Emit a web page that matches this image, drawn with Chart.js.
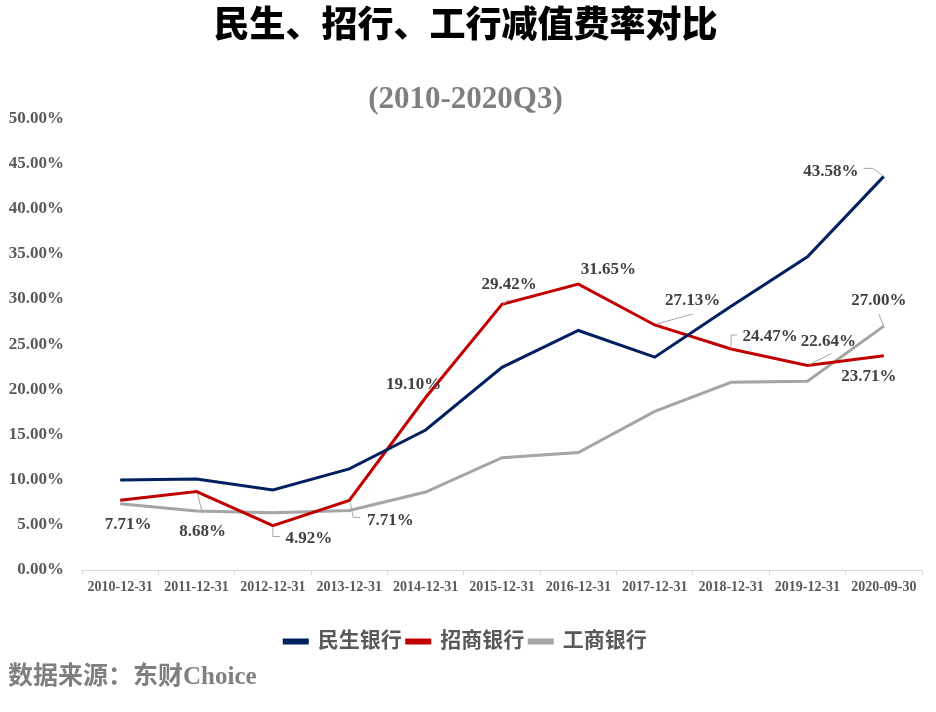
<!DOCTYPE html>
<html>
<head>
<meta charset="utf-8">
<script src="https://cdn.jsdelivr.net/npm/chart.js@4.4.1/dist/chart.umd.min.js"></script>
<style>
  html, body { margin: 0; padding: 0; background: #fff; }
  #wrap { width: 936px; height: 712px; }
</style>
</head>
<body>
<div id="wrap"><canvas id="chart"></canvas></div>
<script>
const FONT = "'Liberation Serif', 'Noto Sans CJK SC', serif";

const categories = [
  '2010-12-31', '2011-12-31', '2012-12-31', '2013-12-31', '2014-12-31', '2015-12-31',
  '2016-12-31', '2017-12-31', '2018-12-31', '2019-12-31', '2020-09-30'
];
const seriesNames = ['民生银行', '招商银行', '工商银行'];
const minsheng = [9.97, 10.08, 8.86, 11.2, 15.5, 22.44, 26.52, 23.56, 29.2, 34.67, 43.58];
const zhaoshang = [7.71, 8.68, 4.92, 7.71, 19.10, 29.42, 31.65, 27.13, 24.47, 22.64, 23.71];
const gongshang = [7.33, 6.52, 6.33, 6.59, 8.63, 12.44, 13.0, 17.56, 20.78, 20.89, 27.00];
const yTicks = [0, 5, 10, 15, 20, 25, 30, 35, 40, 45, 50];

// which points get a value label: [datasetIndex, pointIndex]
const labelled = [
  [1, 0], [1, 1], [1, 2], [1, 3], [1, 4], [1, 5], [1, 6], [1, 7], [1, 8], [1, 9], [1, 10],
  [0, 10], [2, 10]
];
// label offsets from the point, plus optional leader polyline (px)
const placement = [
  { dx: 8, dy: 24 },
  { dx: 6, dy: 40, lead: [[1, 2], [6, 22]] },
  { dx: 36, dy: 13, lead: [[0, 2], [0, 11], [7, 11]] },
  { dx: 41, dy: 20, lead: [[1, 2], [4, 17], [11, 17]] },
  { dx: -12, dy: -13 },
  { dx: 7, dy: -20, lead: [[1, 0], [7, -5]] },
  { dx: 30, dy: -15 },
  { dx: 38, dy: -24, lead: [[2, -1], [38, -11]] },
  { dx: 39, dy: -12, lead: [[0, 0], [0, -14], [6, -14]] },
  { dx: 21, dy: -24, lead: [[2, -1], [24, -12]] },
  { dx: -15, dy: 21 },
  { dx: -53, dy: -5, lead: [[0, 0], [-11, -8], [-20, -8]] },
  { dx: -5, dy: -26, lead: [[0, 0], [-5, -12]] }
];

const valueLabels = {
  id: 'valueLabels',
  afterDatasetsDraw(chart) {
    const ctx = chart.ctx;
    ctx.save();
    labelled.forEach(([ds, i], k) => {
      const pt = chart.getDatasetMeta(ds).data[i];
      const p = placement[k];
      if (p.lead) {
        ctx.strokeStyle = '#a6a6a6';
        ctx.lineWidth = 1;
        ctx.beginPath();
        p.lead.forEach(([lx, ly], j) => {
          if (j === 0) ctx.moveTo(pt.x + lx, pt.y + ly);
          else ctx.lineTo(pt.x + lx, pt.y + ly);
        });
        ctx.stroke();
      }
      const v = chart.data.datasets[ds].data[i];
      ctx.font = 'bold 17px ' + FONT;
      ctx.fillStyle = '#404040';
      ctx.textAlign = 'center';
      ctx.textBaseline = 'middle';
      ctx.fillText(v.toFixed(2) + '%', pt.x + p.dx, pt.y + p.dy);
    });
    ctx.restore();
  }
};

const sourceNote = {
  id: 'sourceNote',
  afterDraw(chart) {
    const ctx = chart.ctx;
    ctx.save();
    ctx.font = 'bold 25px ' + FONT;
    ctx.fillStyle = '#7f7f7f';
    ctx.textAlign = 'left';
    ctx.textBaseline = 'middle';
    ctx.fillText('数据来源：东财Choice', 8, 678);
    ctx.restore();
  }
};

const colors = ['#002060', '#c00000', '#a5a5a5'];
const series = [minsheng, zhaoshang, gongshang];

new Chart(document.getElementById('chart'), {
  type: 'line',
  data: {
    labels: categories,
    datasets: series.map((d, i) => ({
      label: seriesNames[i],
      data: d,
      borderColor: colors[i],
      backgroundColor: colors[i],
      borderWidth: 3,
      pointRadius: 0,
      tension: 0
    }))
  },
  options: {
    responsive: true,
    maintainAspectRatio: false,
    animation: false,
    layout: { padding: { left: 9, right: 14, top: 0, bottom: 50 } },
    plugins: {
      title: {
        display: true,
        text: '民生、招行、工行减值费率对比',
        color: '#000',
        font: { family: FONT, size: 36, weight: 900 },
        padding: { top: 6, bottom: 8 }
      },
      subtitle: {
        display: true,
        text: '(2010-2020Q3)',
        color: '#7f7f7f',
        font: { family: FONT, size: 31, weight: 'bold' },
        padding: { top: 24, bottom: 0 }
      },
      legend: {
        position: 'bottom',
        labels: {
          boxWidth: 23,
          boxHeight: 3,
          color: '#595959',
          font: { family: FONT, size: 21, weight: 'bold' },
          padding: 5
        }
      },
      tooltip: { enabled: false }
    },
    scales: {
      x: {
        offset: true,
        grid: { display: true, offset: true, drawOnChartArea: false, drawTicks: true, tickLength: 5, color: '#d9d9d9' },
        border: { display: true, color: '#d9d9d9', width: 1 },
        afterFit(scale) { scale.height = 56; },
        ticks: {
          color: '#595959',
          font: { family: FONT, size: 14, weight: 'bold' },
          maxRotation: 0,
          autoSkip: false,
          padding: 4
        }
      },
      y: {
        min: 0,
        max: 50,
        afterBuildTicks(scale) { scale.ticks = yTicks.map(v => ({ value: v })); },
        afterFit(scale) { scale.width = 73; },
        grid: { display: false, drawTicks: false },
        border: { display: false },
        ticks: {
          color: '#595959',
          font: { family: FONT, size: 17, weight: 'bold' },
          padding: 18,
          callback: v => v.toFixed(2) + '%'
        }
      }
    }
  },
  plugins: [valueLabels, sourceNote]
});
</script>
</body>
</html>
